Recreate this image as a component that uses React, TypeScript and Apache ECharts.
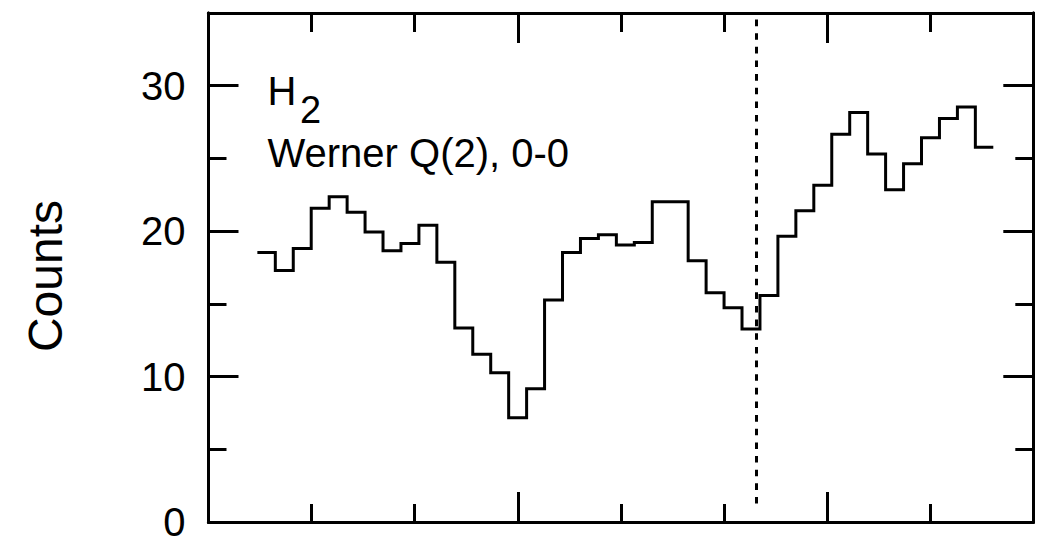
import React, { useEffect, useRef } from "react";
import * as echarts from "echarts";

// Histogram bins: left edge of the first bin and bin width (x-axis units)
const binStart = 0.474;
const binWidth = 0.1741;
// Counts per bin
const counts = [
  18.54, 17.3, 18.81, 21.57, 22.36, 21.3, 19.94, 18.65, 19.15, 20.4, 17.86,
  13.34, 11.53, 10.26, 7.17, 9.16, 15.26, 18.54, 19.49, 19.76, 19.04, 19.22,
  22.02, 22.02, 17.96, 15.76, 14.74, 13.27, 15.58, 19.65, 21.41, 23.15, 26.66,
  28.15, 25.3, 22.84, 24.64, 26.43, 27.74, 28.54, 25.77,
];
// Position of the dashed reference line (x-axis units) and its vertical extent
const refLineX = 5.31;
const refLineY = [34.55, 0.79];
const yTickLabels = [0, 10, 20, 30];
const annotation = { species: "H", sub: "2", line: "Werner Q(2), 0-0" };
const yName = "Counts";

const FONT = "'Liberation Sans', Arial, Helvetica, sans-serif";

export default function App() {
  const ref = useRef<HTMLDivElement>(null);
  useEffect(() => {
    if (!ref.current) return;
    const chart = echarts.init(ref.current, null, { renderer: "svg" });

    const stepData: [number, number][] = counts.map((v, i) => [binStart + i * binWidth, v]);
    stepData.push([binStart + counts.length * binWidth, counts[counts.length - 1]]);

    const axisLine = { show: true, onZero: false, lineStyle: { color: "#000", width: 3 } };
    const xAx = (position: string, interval: number, length: number) => ({
      type: "value",
      min: 0,
      max: 8,
      interval,
      position,
      axisLine,
      axisTick: { show: true, inside: true, length, lineStyle: { color: "#000", width: 3 } },
      axisLabel: { show: false },
      splitLine: { show: false },
    });
    const yAx = (position: string, interval: number, length: number, labels: boolean) => ({
      type: "value",
      min: 0,
      max: 35,
      interval,
      position,
      axisLine,
      axisTick: { show: true, inside: true, length, lineStyle: { color: "#000", width: 3 } },
      axisLabel: labels
        ? {
            show: true,
            margin: 23,
            color: "#000",
            fontSize: 40,
            fontFamily: FONT,
            formatter: (v: number) => (yTickLabels.includes(v) ? String(v) : ""),
          }
        : { show: false },
      splitLine: { show: false },
    });

    chart.setOption({
      animation: false,
      backgroundColor: "#fff",
      grid: { left: 208.5, right: 11.7, top: 13, bottom: 13, containLabel: false },
      xAxis: [
        xAx("bottom", 1, 18),
        xAx("bottom", 3, 30),
        xAx("top", 1, 19),
        xAx("top", 3, 30),
      ],
      yAxis: [
        yAx("left", 5, 18, false),
        yAx("left", 10, 30, true),
        yAx("right", 5, 18, false),
        yAx("right", 10, 30, false),
      ],
      series: [
        {
          type: "line",
          xAxisIndex: 0,
          yAxisIndex: 0,
          step: "end",
          data: stepData,
          showSymbol: false,
          symbol: "none",
          lineStyle: { color: "#000", width: 3, join: "miter", cap: "butt" },
          markLine: {
            silent: true,
            symbol: "none",
            label: { show: false },
            lineStyle: { color: "#000", width: 3, type: [6.6, 7.04] },
            data: [[{ coord: [refLineX, refLineY[0]] }, { coord: [refLineX, refLineY[1]] }]],
          },
        },
      ],
      graphic: [
        {
          type: "text",
          x: 267.5,
          y: 91,
          style: { text: annotation.species, fontSize: 40, fontFamily: FONT, fill: "#000", textAlign: "left", textVerticalAlign: "middle" },
        },
        {
          type: "text",
          x: 300,
          y: 109.5,
          style: { text: annotation.sub, fontSize: 38, fontFamily: FONT, fill: "#000", textAlign: "left", textVerticalAlign: "middle" },
        },
        {
          type: "text",
          x: 267.5,
          y: 153,
          style: { text: annotation.line, fontSize: 40, fontFamily: FONT, fill: "#000", textAlign: "left", textVerticalAlign: "middle" },
        },
        {
          type: "text",
          x: 45,
          y: 276,
          rotation: Math.PI / 2,
          style: { text: yName, fontSize: 48, fontFamily: FONT, fill: "#000", textAlign: "center", textVerticalAlign: "middle" },
        },
      ],
    });
    return () => chart.dispose();
  }, []);
  return (
    <div
      ref={ref}
      style={{ position: "fixed", left: 0, top: 0, width: 1045, height: 542, background: "#fff" }}
    />
  );
}
